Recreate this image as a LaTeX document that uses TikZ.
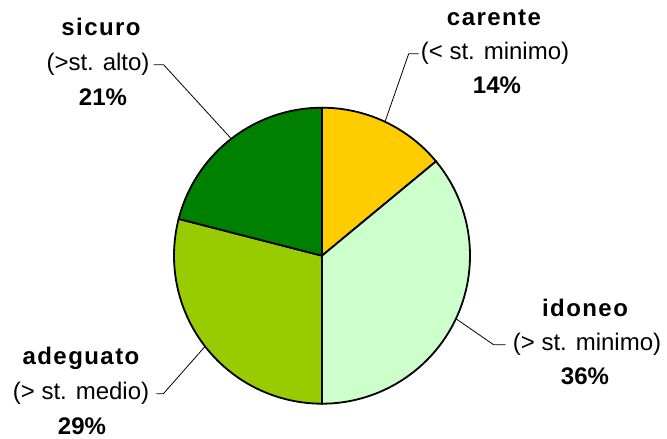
\documentclass[tikz,border=0pt]{standalone}
\usepackage{fontspec}
\setmainfont{Liberation Sans}
\newfontfamily\titlefont[LetterSpace=6]{Liberation Sans}
\definecolor{carC}{HTML}{FFCC00}
\definecolor{idoC}{HTML}{CCFFCC}
\definecolor{adeC}{HTML}{99CC00}
\definecolor{sicC}{HTML}{008000}
\begin{document}
\begin{tikzpicture}[x=1pt,y=1pt,
  slice/.style={draw=black,line width=1.8pt,line join=miter},
  lbl/.style={anchor=base,inner sep=2pt,font=\fontsize{24}{29}\selectfont},
  ttl/.style={anchor=base,inner sep=2pt,font=\fontsize{24}{29}\selectfont\titlefont\bfseries},
  pct/.style={anchor=base,inner sep=2pt,font=\fontsize{24}{29}\selectfont\bfseries},
  leader/.style={draw=black,line width=0.8pt}]
\useasboundingbox (0,0) rectangle (667,439);
\coordinate (C) at (322,183.3);
\def\R{148}
% slices
\filldraw[slice,fill=carC] (C) -- ([shift={(C)}]90:\R) arc[start angle=90,end angle=39.6,radius=\R] -- cycle;
\filldraw[slice,fill=idoC] (C) -- ([shift={(C)}]39.6:\R) arc[start angle=39.6,end angle=-90,radius=\R] -- cycle;
\filldraw[slice,fill=adeC] (C) -- ([shift={(C)}]-90:\R) arc[start angle=-90,end angle=-194.4,radius=\R] -- cycle;
\filldraw[slice,fill=sicC] (C) -- ([shift={(C)}]165.6:\R) arc[start angle=165.6,end angle=90,radius=\R] -- cycle;
% edge points
\coordinate (pS) at ([shift={(C)}]127.8:\R);
\coordinate (pC) at ([shift={(C)}]64.8:\R);
\coordinate (pI) at ([shift={(C)}]-25.2:\R);
\coordinate (pA) at ([shift={(C)}]-142.2:\R);
% labels
\node[ttl] (sicT) at (101,403) {sicuro};
\node[lbl] (sicS) at (98,368) {(>st. alto)};
\node[pct] (sicP) at (103,333) {21\%};
\node[ttl] (carT) at (494,413) {carente};
\node[lbl] (carS) at (495,379) {(< st. minimo)};
\node[pct] (carP) at (497,345) {14\%};
\node[ttl] (idoT) at (585,122) {idoneo};
\node[lbl] (idoS) at (587,88) {(> st. minimo)};
\node[pct] (idoP) at (585,54) {36\%};
\node[ttl] (adeT) at (81,74) {adeguato};
\node[lbl] (adeS) at (81,39) {(> st. medio)};
\node[pct] (adeP) at (82,4) {29\%};
% leaders
\draw[leader] (sicS.east) ++(2,0) -- ++(10,0) -- (pS);
\draw[leader] (carS.west) -- ++(-10,0) -- (pC);
\draw[leader] (idoS.west) ++(-5,0) -- ++(-12,0) -- (pI);
\draw[leader] (adeS.east) ++(5,0) -- ++(7,0) -- (pA);
\end{tikzpicture}
\end{document}
